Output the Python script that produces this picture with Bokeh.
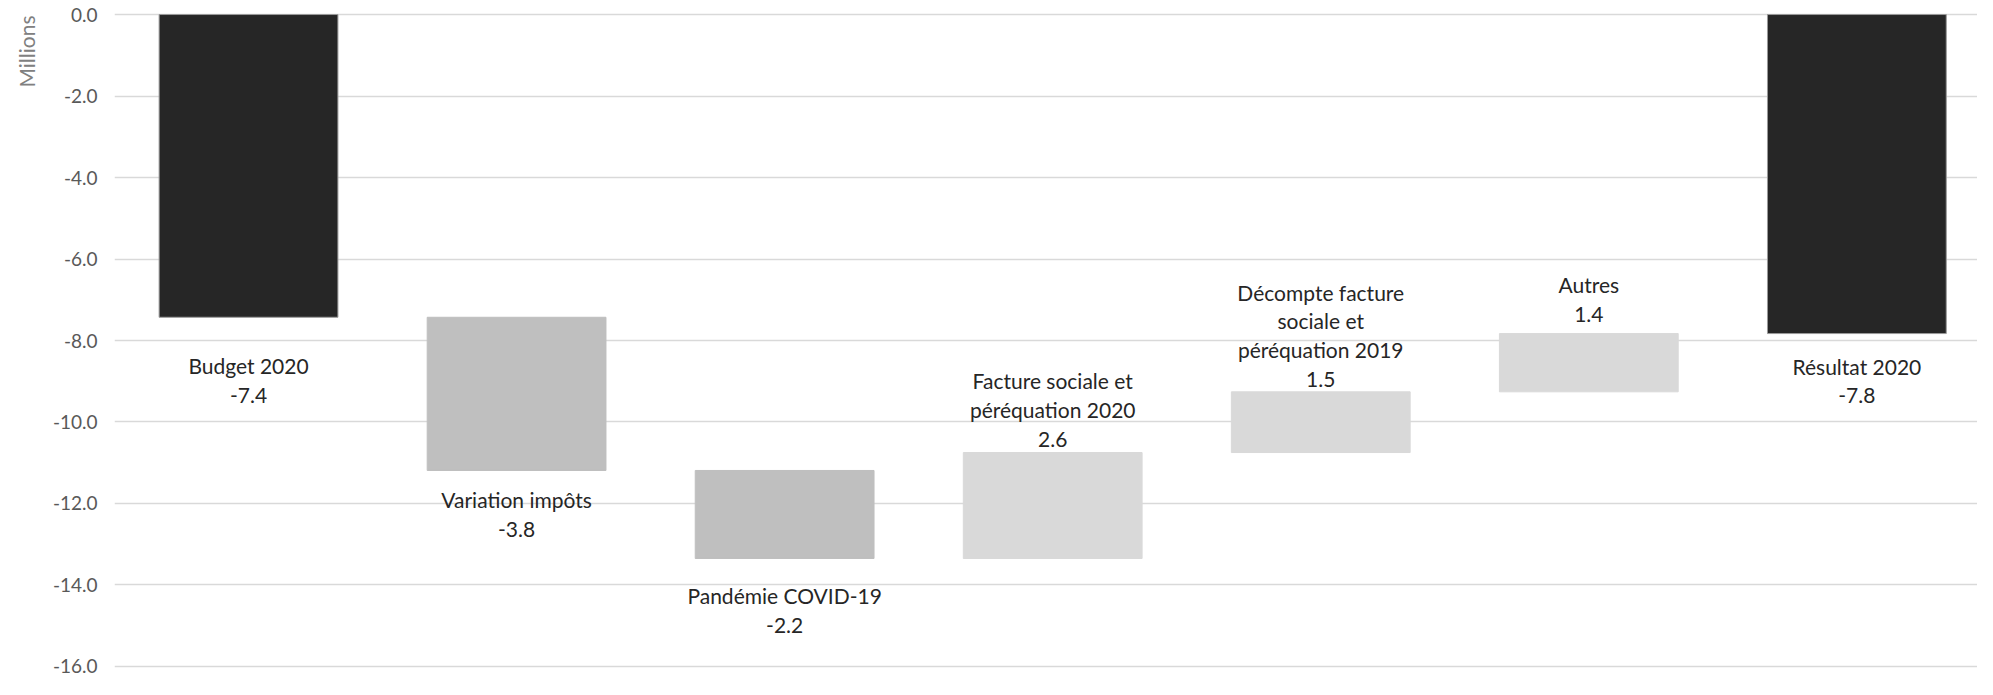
from bokeh.plotting import figure
from bokeh.models import Range1d, FixedTicker, Label, Title, CustomJSTickFormatter
from bokeh.embed import file_html
from bokeh.resources import INLINE

# ---- data ----
categories = ["Budget 2020", "Variation impôts", "Pandémie COVID-19",
              "Facture sociale et\npéréquation 2020",
              "Décompte facture\nsociale et\npéréquation 2019",
              "Autres", "Résultat 2020"]
kinds = ["total", "delta", "delta", "delta", "delta", "delta", "total"]
values = [-7.43, -3.76, -2.16, 2.60, 1.49, 1.43, -7.83]
y_ticks = [0, -2, -4, -6, -8, -10, -12, -14, -16]

# ---- styles ----
FONT = "Lato"
TOTAL_COLOR = "#262626"
NEG_COLOR = "#BFBFBF"
POS_COLOR = "#D9D9D9"
label_offsets = [-36, -17, -25, 2, 1, 8, -20]   # px, negative = below

# waterfall geometry from values
xs, tops, bottoms, colors, lines = [], [], [], [], []
running = 0.0
for i, (k, v) in enumerate(zip(kinds, values)):
    xs.append(i + 0.5)
    if k == "total":
        tops.append(0.0)
        bottoms.append(v)
        running = v
        colors.append(TOTAL_COLOR)
        lines.append("#9A9A9A")
    else:
        tops.append(running)
        bottoms.append(running + v)
        running = running + v
        c = NEG_COLOR if v < 0 else POS_COLOR
        colors.append(c)
        lines.append(c)

p = figure(width=1977, height=679, output_backend="svg", toolbar_location=None,
           x_range=Range1d(0, 6.95), y_range=Range1d(-16.05, 0.05),
           min_border_left=114, min_border_right=0, min_border_top=12,
           min_border_bottom=11)
p.outline_line_color = None
p.background_fill_color = "white"
p.border_fill_color = "white"

p.xaxis.visible = False
p.xgrid.visible = False
p.ygrid.grid_line_color = "#D9D9D9"
p.ygrid.grid_line_width = 1.5
p.ygrid.ticker = FixedTicker(ticks=y_ticks)

ax = p.yaxis[0]
ax.ticker = FixedTicker(ticks=y_ticks)
ax.formatter = CustomJSTickFormatter(code="return tick.toFixed(1);")
ax.axis_line_color = None
ax.major_tick_line_color = None
ax.minor_tick_line_color = None
ax.major_tick_out = 0
ax.major_label_standoff = 17
ax.major_label_text_font = FONT
ax.major_label_text_font_size = "19px"
ax.major_label_text_color = "#595959"

p.add_layout(Title(text="Millions", align="right", text_font=FONT,
                   text_font_size="21px", text_font_style="normal",
                   text_color="#808080", standoff=22, offset=3), "left")

p.vbar(x=xs, top=tops, bottom=bottoms, width=0.667, fill_color=colors,
       line_color=lines, line_width=1)

for i, (k, v) in enumerate(zip(kinds, values)):
    txt = f"{categories[i]}\n{v:.1f}"
    if k == "total" or v < 0:
        lab = Label(x=xs[i], y=min(tops[i], bottoms[i]), text=txt,
                    text_align="center", text_baseline="top",
                    y_offset=label_offsets[i])
    else:
        lab = Label(x=xs[i], y=max(tops[i], bottoms[i]), text=txt,
                    text_align="center", text_baseline="bottom",
                    y_offset=label_offsets[i])
    lab.text_font = FONT
    lab.text_font_size = "21px"
    lab.text_color = "#262626"
    lab.text_line_height = 1.15
    p.add_layout(lab)

open("out.html", "w").write(file_html(p, INLINE))
